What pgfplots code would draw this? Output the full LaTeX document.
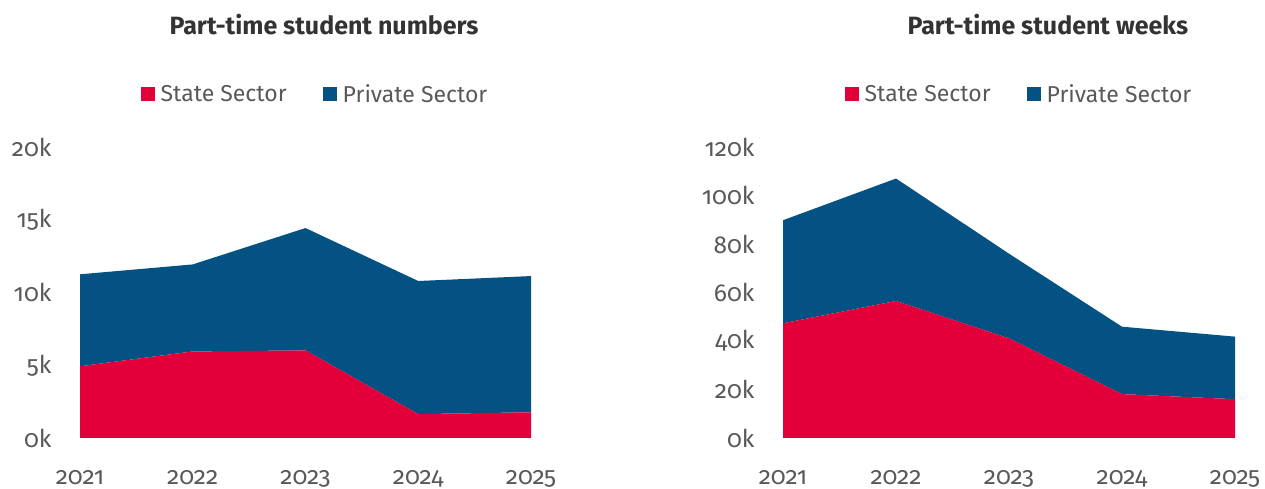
\documentclass[border=0pt]{standalone}
\usepackage{fontspec}
\setmainfont{Fira Sans}[Numbers=OldStyle]
\usepackage{pgfplots}
\pgfplotsset{compat=1.18}
\definecolor{statered}{RGB}{227,0,58}
\definecolor{privblue}{RGB}{4,82,131}
\definecolor{txt}{RGB}{89,89,89}
\definecolor{ttl}{RGB}{51,51,51}
\pgfplotsset{
  base/.style={
    scale only axis, width=451pt, height=291pt,
    anchor=south west,
    axis line style={draw=none}, tick style={draw=none},
    major tick length=0pt,
    xmin=2021, xmax=2025,
    xtick={2021,2022,2023,2024,2025},
    xticklabels={2021,2022,2023,2024,2025},
    stack plots=y, area style,
    /pgf/number format/assume math mode=true,
    ticklabel style={font=\fontsize{24.5}{28}\selectfont, text=txt},
    xticklabel style={yshift=-29pt},
    yticklabel style={xshift=-25pt},
    title style={font=\fontsize{25}{29}\selectfont\bfseries, text=ttl, anchor=center},
    legend style={draw=none, fill=none, legend columns=2, anchor=center,
      font=\fontsize{23}{27}\selectfont, text=txt,
      /tikz/every even column/.append style={column sep=34pt}},
    legend image code/.code={\fill[##1] (0pt,-7pt) rectangle (14pt,7pt); \path (18pt,0pt);},
  }
}
\begin{document}
\begin{tikzpicture}
\useasboundingbox (0pt,0pt) rectangle (1265pt,489pt);
\begin{axis}[base, at={(80pt,51pt)},
  ymin=0, ymax=20, ytick={0,5,10,15,20},
  yticklabels={0k,5k,10k,15k,20k},
  title={Part-time student numbers},
  title style={at={(0.541,1.40)}},
  legend style={at={(0.521,1.182)}}]
\addplot[fill=statered, draw=none] coordinates {(2021,4.93) (2022,5.95) (2023,6.02) (2024,1.64) (2025,1.77)} \closedcycle;
\addlegendentry{State Sector}
\addplot[fill=privblue, draw=none] coordinates {(2021,6.32) (2022,5.98) (2023,8.41) (2024,9.15) (2025,9.36)} \closedcycle;
\addlegendentry{Private Sector}
\end{axis}
\begin{axis}[base, at={(783pt,51pt)}, width=452pt,
  ymin=0, ymax=120, ytick={0,20,40,60,80,100,120},
  yticklabels={0k,20k,40k,60k,80k,100k,120k},
  title={Part-time student weeks},
  title style={at={(0.586,1.40)}},
  legend style={at={(0.522,1.182)}}]
\addplot[fill=statered, draw=none] coordinates {(2021,47.3) (2022,56.5) (2023,41.1) (2024,18.1) (2025,16.0)} \closedcycle;
\addlegendentry{State Sector}
\addplot[fill=privblue, draw=none] coordinates {(2021,42.5) (2022,50.5) (2023,34.9) (2024,27.8) (2025,25.8)} \closedcycle;
\addlegendentry{Private Sector}
\end{axis}
\end{tikzpicture}
\end{document}
